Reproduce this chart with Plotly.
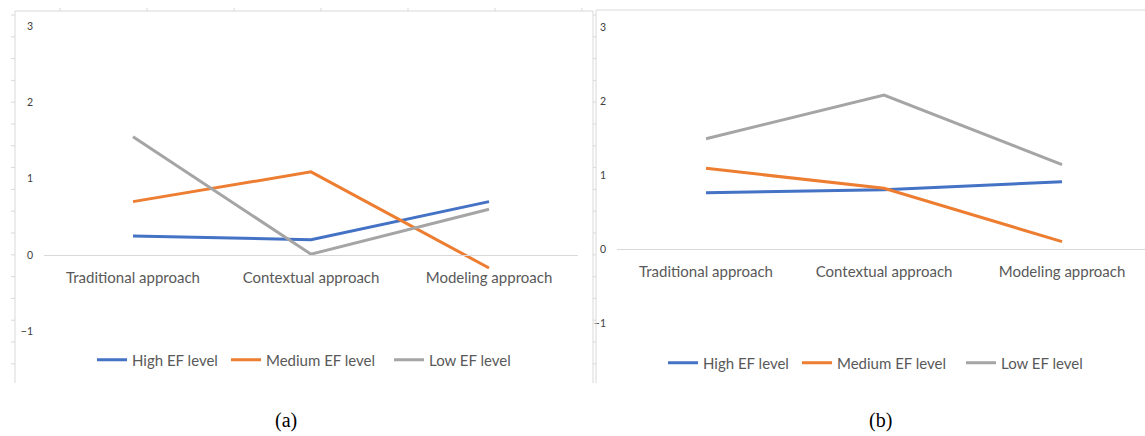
import plotly.graph_objects as go

W, H = 1145, 436

categories = ["Traditional approach", "Contextual approach", "Modeling approach"]
series_names = ["High EF level", "Medium EF level", "Low EF level"]
colors = ["#4472C4", "#ED7D31", "#A5A5A5"]

# panel (a)
a_high = [0.25, 0.20, 0.70]
a_medium = [0.70, 1.09, -0.17]
a_low = [1.55, 0.01, 0.60]

# panel (b)
b_high = [0.76, 0.80, 0.91]
b_medium = [1.09, 0.82, 0.10]
b_low = [1.49, 2.08, 1.14]

y_ticks = [-1, 0, 1, 2, 3]
captions = ["(a)", "(b)"]


def px(x):
    return x / W


def py(y):
    return 1 - y / H


fig = go.Figure()

panel_a = [a_high, a_medium, a_low]
panel_b = [b_high, b_medium, b_low]

for i, (name, vals) in enumerate(zip(series_names, panel_a)):
    fig.add_trace(go.Scatter(
        x=categories, y=vals, mode="lines", name=name,
        line=dict(color=colors[i], width=3),
        xaxis="x", yaxis="y", showlegend=True,
        legend="legend" if i == 0 else f"legend{i + 1}",
    ))
for i, (name, vals) in enumerate(zip(series_names, panel_b)):
    fig.add_trace(go.Scatter(
        x=categories, y=vals, mode="lines", name=name,
        line=dict(color=colors[i], width=3),
        xaxis="x2", yaxis="y2", showlegend=True,
        legend=f"legend{i + 4}",
    ))

axis_font = dict(family="Lato", size=15, color="#595959")
ytick_font = dict(family="Lato", size=10.5, color="#404040")
y_range = [-1.6, 3.2]

layout = dict(
    width=W, height=H,
    margin=dict(l=0, r=0, t=0, b=0),
    paper_bgcolor="white", plot_bgcolor="white",
    showlegend=True,
    xaxis=dict(
        domain=[px(44), px(578)], range=[-0.5, 2.5], type="category",
        anchor="free", position=py(255),
        showline=True, linecolor="#D9D9D9", linewidth=1,
        showgrid=False, zeroline=False, ticks="",
        tickfont=axis_font, ticklabelstandoff=9,
    ),
    yaxis=dict(
        domain=[py(377), py(11)], range=y_range,
        tickvals=y_ticks, showgrid=False, zeroline=False,
        showline=False, ticks="", tickfont=ytick_font,
        ticklabelstandoff=10,
    ),
    xaxis2=dict(
        domain=[px(617), 1.0], range=[-0.5, 2.466], type="category",
        anchor="free", position=py(249),
        showline=True, linecolor="#D9D9D9", linewidth=1,
        showgrid=False, zeroline=False, ticks="",
        tickfont=axis_font, ticklabelstandoff=9,
    ),
    yaxis2=dict(
        domain=[py(367.4), py(12.2)], range=y_range, anchor="x2",
        tickvals=y_ticks, showgrid=False, zeroline=False,
        showline=False, ticks="", tickfont=ytick_font,
        ticklabelstandoff=10,
    ),
)

# one legend per series so each entry sits where its key belongs
legend_text_x = [132, 266, 429, 703, 837, 1001]
legend_y = [360, 360, 360, 363, 363, 363]
for k, (tx, ly) in enumerate(zip(legend_text_x, legend_y)):
    key = "legend" if k == 0 else f"legend{k + 1}"
    layout[key] = dict(
        x=px(tx - 40), y=py(ly), xanchor="left", yanchor="middle",
        orientation="h", bgcolor="rgba(0,0,0,0)", borderwidth=0,
        font=dict(family="Lato", size=15, color="#595959"),
    )

fig.update_layout(**layout)

# worksheet frame around each chart object
frame = "#D9D9D9"
shapes = [
    dict(x0=15, x1=15, y0=11, y1=383),
    dict(x0=15, x1=593, y0=11, y1=11),
    dict(x0=593, x1=593, y0=11, y1=383),
    dict(x0=596, x1=596, y0=10, y1=383),
    dict(x0=596, x1=W, y0=10, y1=10),
]
row_y = [15 + 21.8 * k for k in range(17)]
for ry in row_y:
    shapes.append(dict(x0=11, x1=15, y0=ry, y1=ry))
    shapes.append(dict(x0=593, x1=596, y0=ry, y1=ry))
for cx in [60, 147, 234, 321, 408, 495, 582]:
    shapes.append(dict(x0=cx, x1=cx, y0=8, y1=11))

for s in shapes:
    fig.add_shape(
        type="line", xref="paper", yref="paper",
        x0=px(s["x0"]), x1=px(s["x1"]), y0=py(s["y0"]), y1=py(s["y1"]),
        line=dict(color=frame, width=1),
    )

for cap, cx in zip(captions, [286, 880]):
    fig.add_annotation(
        text=cap, x=px(cx), y=py(420), xref="paper", yref="paper",
        showarrow=False, xanchor="center", yanchor="middle",
        font=dict(family="Liberation Serif", size=20, color="#000000"),
    )

fig.write_html("out.html")
